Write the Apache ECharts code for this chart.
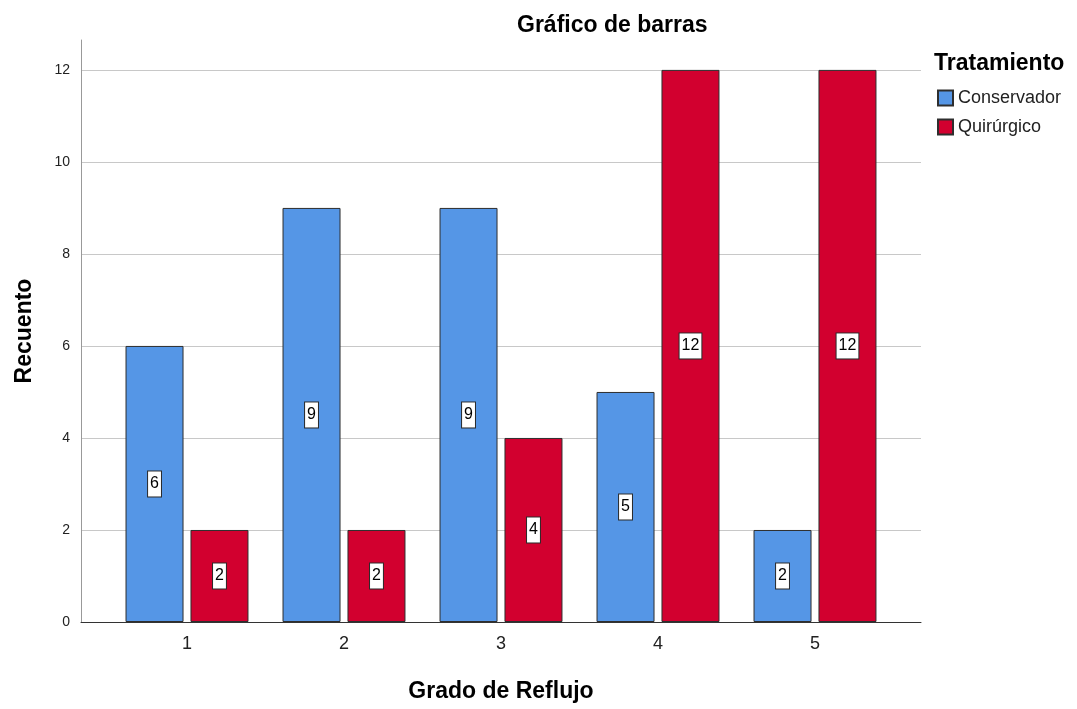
<!DOCTYPE html>
<html>
<head>
<meta charset="utf-8">
<script src="https://cdn.jsdelivr.net/npm/echarts@6/dist/echarts.min.js"></script>
<style>
  html, body { margin: 0; padding: 0; background: #fff; }
  #chart { width: 1077px; height: 709px; }
</style>
</head>
<body>
<div id="chart"></div>
<script>
// Grado de reflujo categories and counts per treatment
const categories = ['1', '2', '3', '4', '5'];
const conservador = [6, 9, 9, 5, 2];
const quirurgico = [2, 2, 4, 12, 12];
const yTicks = [0, 2, 4, 6, 8, 10, 12];

const FONT = '"Liberation Sans", Arial, sans-serif';

const chart = echarts.init(document.getElementById('chart'));

const valueLabel = {
  show: true,
  position: 'inside',
  color: '#000',
  fontFamily: FONT,
  fontSize: 16,
  backgroundColor: '#fff',
  borderColor: '#2a2a2a',
  borderWidth: 1,
  padding: [5, 2, 4, 2],
  formatter: p => String(p.value)
};

const yMax = 12.65;
const plot = { top: 40, bottom: 87 };

chart.setOption({
  animation: false,
  title: {
    text: 'Gráfico de barras',
    left: 512,
    top: 9,
    textStyle: { fontFamily: FONT, fontSize: 23, fontWeight: 'bold', color: '#000' }
  },
  legend: {
    left: 932,
    top: 84,
    orient: 'vertical',
    itemWidth: 15,
    itemHeight: 15,
    itemGap: 11,
    icon: 'rect',
    textStyle: { fontFamily: FONT, fontSize: 18, lineHeight: 15, color: '#222' },
    data: ['Conservador', 'Quirúrgico']
  },
  graphic: [{
    type: 'text',
    left: 934,
    top: 52,
    style: { text: 'Tratamiento', font: 'bold 23px ' + FONT, fill: '#000' }
  }],
  grid: [
    // background grid: full-width gridlines and axes
    { left: 81, right: 156, top: plot.top, bottom: plot.bottom },
    // bar grid: category bands
    { left: 108.5, width: 785, top: plot.top, bottom: plot.bottom }
  ],
  xAxis: [
    {
      gridIndex: 0, type: 'value', min: 0, max: 1,
      axisLine: { show: true, onZero: false, lineStyle: { color: '#333', width: 1 } },
      axisTick: { show: false }, axisLabel: { show: false }, splitLine: { show: false },
      name: 'Grado de Reflujo', nameLocation: 'middle', nameGap: 58,
      nameTextStyle: { fontFamily: FONT, fontSize: 23, fontWeight: 'bold', color: '#000' }
    },
    {
      gridIndex: 1, type: 'category', data: categories,
      axisLine: { show: false }, axisTick: { show: false },
      axisLabel: { fontFamily: FONT, fontSize: 18, color: '#222', margin: 13 }
    }
  ],
  yAxis: [
    {
      gridIndex: 0, type: 'value', min: 0, max: yMax, interval: 2,
      axisLine: { show: true, lineStyle: { color: '#999', width: 1 } },
      axisTick: { show: false },
      axisLabel: {
        fontFamily: FONT, fontSize: 14, color: '#222', margin: 11,
        showMaxLabel: false,
        formatter: v => (yTicks.includes(v) ? String(v) : '')
      },
      splitLine: { show: true, showMaxLine: false, lineStyle: { color: '#c8c8c8', width: 1.2 } },
      name: 'Recuento', nameLocation: 'middle', nameGap: 45, nameRotate: 90,
      nameTextStyle: { fontFamily: FONT, fontSize: 23, fontWeight: 'bold', color: '#000' }
    },
    {
      gridIndex: 1, type: 'value', min: 0, max: yMax,
      show: false, splitLine: { show: false }
    }
  ],
  series: [
    {
      name: 'Conservador', type: 'bar', xAxisIndex: 1, yAxisIndex: 1,
      data: conservador, barWidth: 58, barGap: '12%',
      itemStyle: { color: '#5596e6', borderColor: '#2e2e2e', borderWidth: 1 },
      label: valueLabel
    },
    {
      name: 'Quirúrgico', type: 'bar', xAxisIndex: 1, yAxisIndex: 1,
      data: quirurgico, barWidth: 58, barGap: '12%',
      itemStyle: { color: '#d2002f', borderColor: '#2e2e2e', borderWidth: 1 },
      label: valueLabel
    }
  ]
});
</script>
</body>
</html>
